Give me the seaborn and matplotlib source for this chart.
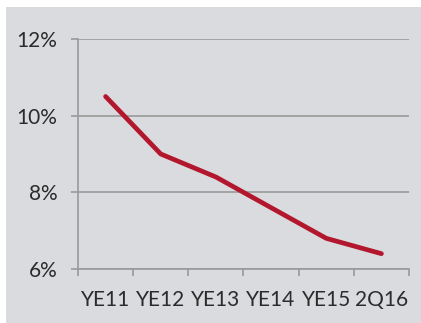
import numpy as np
import matplotlib.pyplot as plt
import seaborn as sns
import pandas as pd
from matplotlib.patches import Rectangle

periods = ["YE11", "YE12", "YE13", "YE14", "YE15", "2Q16"]
ratio = [10.5, 9.0, 8.4, 7.6, 6.8, 6.4]
y_ticks = [6, 8, 10, 12]

sns.set_style("white")
plt.rcParams['font.family'] = ['Lato', 'DejaVu Sans']

bg = '#dadbde'
grid_col = '#9a9a9a'
text_col = '#2b2b2b'

fig = plt.figure(figsize=(4.21, 3.23), dpi=100, facecolor='white')
fig.patches.append(Rectangle((6 / 421, 0), 1, 1 - 7 / 323, transform=fig.transFigure,
                             facecolor=bg, edgecolor='none', zorder=-1))
ax = fig.add_axes([78 / 421, 1 - 269 / 323, (409 - 78) / 421, (269 - 39) / 323])
ax.set_facecolor(bg)

df = pd.DataFrame({"period": periods, "ratio": ratio})
df["pos"] = np.arange(len(periods))
sns.lineplot(data=df, x="pos", y="ratio", ax=ax, color='#b3172d', linewidth=3.4,
             solid_capstyle='round')

ax.set_xlim(-0.5, len(periods) - 0.5)
ax.set_ylim(6, 12)
ax.set_yticks(y_ticks)
ax.set_yticklabels([f"{v}%" for v in y_ticks])
ax.set_xticks(np.arange(len(periods) + 1) - 0.5)
ax.set_xticklabels([])
ax.set_xticks(np.arange(len(periods)), minor=True)
ax.set_xticklabels(periods, minor=True)
ax.set_xlabel("")
ax.set_ylabel("")

ax.yaxis.grid(True, color=grid_col, linewidth=1.2)
ax.xaxis.grid(False)
ax.tick_params(axis='y', which='major', length=5, width=1.2, color=grid_col, pad=10,
               labelsize=15, labelcolor=text_col, left=True)
ax.tick_params(axis='x', which='major', length=5, width=1.2, color=grid_col, bottom=True)
ax.tick_params(axis='x', which='minor', length=0, pad=15, labelsize=15, labelcolor=text_col)

for side in ['top', 'right']:
    ax.spines[side].set_visible(False)
for side in ['left', 'bottom']:
    ax.spines[side].set_color(grid_col)
    ax.spines[side].set_linewidth(1.2)

fig.savefig("out.png", dpi=100, facecolor='white')
plt.close(fig)
